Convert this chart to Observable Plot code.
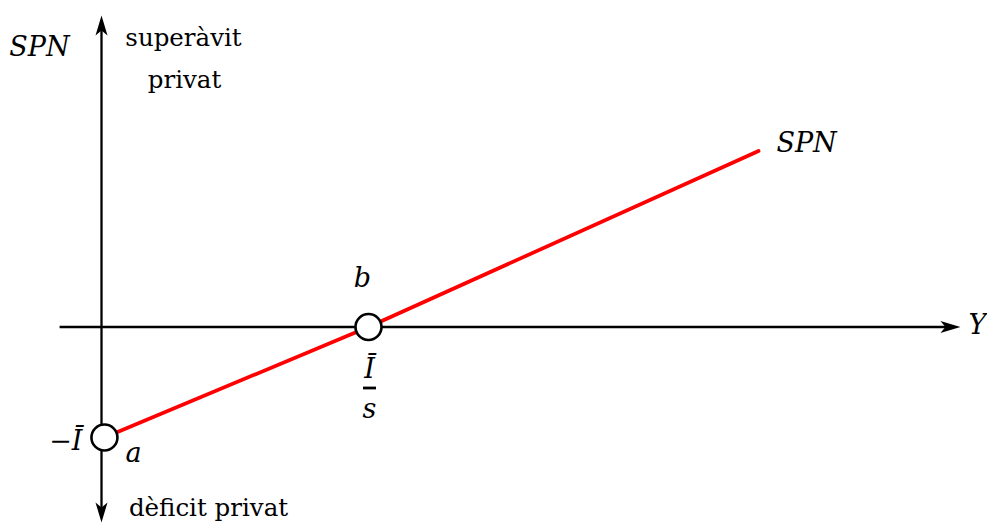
<!DOCTYPE html>
<html>
<head>
<meta charset="utf-8">
<script src="https://cdn.jsdelivr.net/npm/d3@7"></script>
<script src="https://cdn.jsdelivr.net/npm/@observablehq/plot@0.6"></script>
<style>
  html, body { margin: 0; padding: 0; background: #fff; }
  #chart svg { display: block; }
</style>
</head>
<body>
<div id="chart"></div>
<script>
// Income Y (in units of Ī/s) and private net saving SPN (in units of Ī)
const lineY   = [0.011, 1, 2.461];
const lineSPN = [-1, 0, 1.593];

// Marked points
const pointNames = ["a", "b"];
const pointY     = [0.011, 1];
const pointSPN   = [-1, 0];

// Axes extents (arrows)
const xAxisFrom = -0.157, xAxisTo = 3.217;
const yAxisFrom = -1.769, yAxisTo = 2.819;

const lineData = lineY.map((y, i) => ({Y: y, SPN: lineSPN[i]}));
const points = pointNames.map((n, i) => ({name: n, Y: pointY[i], SPN: pointSPN[i]}));
const a = points[0], b = points[1];
const end = lineData[lineData.length - 1];

const serif = "'DejaVu Serif', serif";
const mathSize = 27;
const textSize = 24.5;

// stealth arrowhead, tip at origin pointing up
const stealth = {
  draw(ctx) {
    const L = 20, w = 6, notch = 15;
    ctx.moveTo(0, 0);
    ctx.lineTo(w, L);
    ctx.lineTo(0, notch);
    ctx.lineTo(-w, L);
    ctx.closePath();
  }
};
const fracBar = {
  draw(ctx) {
    ctx.moveTo(-6.5, -1.4);
    ctx.lineTo(6.5, -1.4);
    ctx.lineTo(6.5, 1.4);
    ctx.lineTo(-6.5, 1.4);
    ctx.closePath();
  }
};

const chart = Plot.plot({
  width: 987,
  height: 523,
  margin: 0,
  x: {domain: [-0.3783, 3.3184], axis: null},
  y: {domain: [-1.7783, 2.9548], axis: null},
  marks: [
    // axes lines
    Plot.link([{x1: xAxisFrom, x2: xAxisTo - 0.04, y1: 0, y2: 0}], {x1: "x1", x2: "x2", y1: "y1", y2: "y2", stroke: "black", strokeWidth: 2.3}),
    Plot.link([{x1: 0, x2: 0, y1: yAxisFrom + 0.09, y2: yAxisTo - 0.09}], {x1: "x1", x2: "x2", y1: "y1", y2: "y2", stroke: "black", strokeWidth: 2.3}),
    // arrowheads
    Plot.dot([{x: xAxisTo, y: 0}], {x: "x", y: "y", symbol: stealth, fill: "black", stroke: "none", rotate: 90}),
    Plot.dot([{x: 0, y: yAxisTo}], {x: "x", y: "y", symbol: stealth, fill: "black", stroke: "none", rotate: 0}),
    Plot.dot([{x: 0, y: yAxisFrom}], {x: "x", y: "y", symbol: stealth, fill: "black", stroke: "none", rotate: 180}),
    // SPN line
    Plot.line(lineData, {x: "Y", y: "SPN", stroke: "#ff0000", strokeWidth: 3.7, curve: "linear"}),
    // points
    Plot.dot(points, {x: "Y", y: "SPN", r: 13, fill: "white", stroke: "black", strokeWidth: 2.6}),
    // fraction bar under Ī
    Plot.dot([b], {x: "Y", y: "SPN", symbol: fracBar, fill: "black", stroke: "none", dx: 1, dy: 61}),
    // math labels
    Plot.text([b], {x: "Y", y: "SPN", text: d => d.name, dx: -6, dy: -40.5, lineAnchor: "bottom", fontFamily: serif, fontStyle: "italic", fontSize: mathSize, fill: "black"}),
    Plot.text([a], {x: "Y", y: "SPN", text: d => d.name, dx: 29, dy: 25, lineAnchor: "bottom", fontFamily: serif, fontStyle: "italic", fontSize: mathSize, fill: "black"}),
    Plot.text([a], {x: "Y", y: "SPN", text: ["\u2212\u012A"], dx: -22, dy: 13, textAnchor: "end", lineAnchor: "bottom", fontFamily: serif, fontStyle: "italic", fontSize: mathSize, fill: "black"}),
    Plot.text([b], {x: "Y", y: "SPN", text: ["\u012A"], dx: 1, dy: 50.5, lineAnchor: "bottom", fontFamily: serif, fontStyle: "italic", fontSize: mathSize, fill: "black"}),
    Plot.text([b], {x: "Y", y: "SPN", text: ["s"], dx: 1, dy: 90.5, lineAnchor: "bottom", fontFamily: serif, fontStyle: "italic", fontSize: mathSize, fill: "black"}),
    Plot.text([end], {x: "Y", y: "SPN", text: ["SPN"], dx: 48, dy: 1, lineAnchor: "bottom", fontFamily: serif, fontStyle: "italic", fontSize: mathSize, fill: "black"}),
    Plot.text([{x: xAxisTo, y: 0}], {x: "x", y: "y", text: ["Y"], dx: 8, dy: 6.5, textAnchor: "start", lineAnchor: "bottom", fontFamily: serif, fontStyle: "italic", fontSize: mathSize, fill: "black"}),
    Plot.text([{x: 0, y: yAxisTo}], {x: "x", y: "y", text: ["SPN"], dx: -62, dy: 40, lineAnchor: "bottom", fontFamily: serif, fontStyle: "italic", fontSize: mathSize, fill: "black"}),
    // verbal labels
    Plot.text([{x: 0, y: yAxisTo}], {x: "x", y: "y", text: ["superàvit"], dx: 82, dy: 30, lineAnchor: "bottom", fontFamily: serif, fontSize: textSize, fill: "black"}),
    Plot.text([{x: 0, y: yAxisTo}], {x: "x", y: "y", text: ["privat"], dx: 83, dy: 72.5, lineAnchor: "bottom", fontFamily: serif, fontSize: textSize, fill: "black"}),
    Plot.text([{x: 0, y: yAxisFrom}], {x: "x", y: "y", text: ["dèficit privat"], dx: 107, dy: -6, lineAnchor: "bottom", fontFamily: serif, fontSize: textSize, fill: "black"})
  ]
});
document.getElementById("chart").appendChild(chart);
</script>
</body>
</html>
